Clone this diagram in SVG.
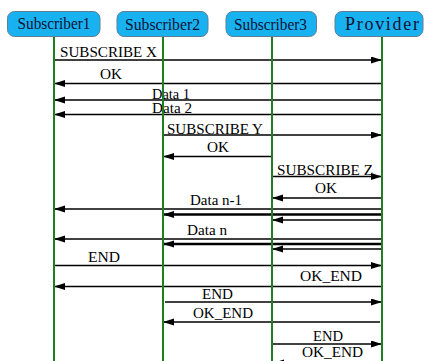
<svg xmlns="http://www.w3.org/2000/svg" width="424" height="361" viewBox="0 0 424 361">
<style>
.box{fill:#18b2f1;stroke:#5f7f95;stroke-width:1}
.hd{font-family:'Liberation Serif','Times New Roman',Tinos,'DejaVu Serif',serif;font-size:16px;fill:#111133}
.lbl{font-family:'Liberation Serif','Times New Roman',Tinos,'DejaVu Serif',serif;font-size:15px;fill:#000}
.life{stroke:#1f7f1f;stroke-width:2}
.msg{stroke:#000;stroke-width:1.6;fill:none;marker-end:url(#ah)}
.thick{stroke-width:2.4}
</style>
<defs>
<marker id="ah" markerUnits="userSpaceOnUse" markerWidth="12" markerHeight="8" refX="11" refY="3.5" orient="auto">
<path d="M0,0 L11,3.5 L0,7 z" fill="#000"/>
</marker>
</defs>
<rect width="424" height="361" fill="#fff"/>
<g id="connectors">
<line class="msg" x1="54" y1="60" x2="382" y2="60"/>
<line class="msg" x1="382" y1="83.5" x2="54" y2="83.5"/>
<line class="msg" x1="382" y1="100" x2="54" y2="100"/>
<line class="msg" x1="382" y1="114.5" x2="54" y2="114.5"/>
<line class="msg" x1="163" y1="135" x2="382" y2="135"/>
<line class="msg" x1="272" y1="156.5" x2="163" y2="156.5"/>
<line class="msg" x1="272" y1="176.5" x2="382" y2="176.5"/>
<line class="msg" x1="382" y1="198" x2="272" y2="198"/>
<line class="msg" x1="382" y1="209" x2="54" y2="209"/>
<line class="msg thick" x1="382" y1="214.5" x2="163" y2="214.5"/>
<line class="msg" x1="382" y1="220" x2="272" y2="220"/>
<line class="msg" x1="382" y1="239" x2="54" y2="239"/>
<line class="msg thick" x1="382" y1="244" x2="163" y2="244"/>
<line class="msg" x1="382" y1="249" x2="272" y2="249"/>
<line class="msg" x1="54" y1="265.5" x2="382" y2="265.5"/>
<line class="msg" x1="382" y1="286.5" x2="54" y2="286.5"/>
<line class="msg" x1="165" y1="302" x2="382" y2="302"/>
<line class="msg" x1="380" y1="322" x2="163" y2="322"/>
<line class="msg" x1="272" y1="344" x2="382" y2="344"/>
<line class="msg" x1="382" y1="363" x2="273" y2="363"/>
</g>
<g id="labels" font-family="Liberation Serif, serif">
<text class="lbl" x="60" y="57" textLength="97" lengthAdjust="spacingAndGlyphs">SUBSCRIBE X</text>
<text class="lbl" x="100" y="79" textLength="22" lengthAdjust="spacingAndGlyphs">OK</text>
<text class="lbl" x="152" y="98.5" style="font-size:14px" textLength="38" lengthAdjust="spacingAndGlyphs">Data 1</text>
<text class="lbl" x="152" y="113" style="font-size:14px" textLength="40" lengthAdjust="spacingAndGlyphs">Data 2</text>
<text class="lbl" x="167" y="134" textLength="96" lengthAdjust="spacingAndGlyphs">SUBSCRIBE Y</text>
<text class="lbl" x="207" y="152" textLength="22" lengthAdjust="spacingAndGlyphs">OK</text>
<text class="lbl" x="277" y="175" textLength="96" lengthAdjust="spacingAndGlyphs">SUBSCRIBE Z</text>
<text class="lbl" x="315" y="193" textLength="22" lengthAdjust="spacingAndGlyphs">OK</text>
<text class="lbl" x="190" y="205" textLength="52" lengthAdjust="spacingAndGlyphs">Data n-1</text>
<text class="lbl" x="187" y="235" textLength="40" lengthAdjust="spacingAndGlyphs">Data n</text>
<text class="lbl" x="88" y="262" textLength="32" lengthAdjust="spacingAndGlyphs">END</text>
<text class="lbl" x="300" y="281" textLength="62" lengthAdjust="spacingAndGlyphs">OK_END</text>
<text class="lbl" x="202" y="299" textLength="31" lengthAdjust="spacingAndGlyphs">END</text>
<text class="lbl" x="193" y="318" textLength="60" lengthAdjust="spacingAndGlyphs">OK_END</text>
<text class="lbl" x="313" y="341" textLength="30" lengthAdjust="spacingAndGlyphs">END</text>
<text class="lbl" x="302" y="357" textLength="61" lengthAdjust="spacingAndGlyphs">OK_END</text>
</g>
<g id="lifelines">
<line class="life" x1="54" y1="37" x2="54" y2="361"/>
<line class="life" x1="163" y1="37" x2="163" y2="361"/>
<line class="life" x1="272" y1="37" x2="272" y2="361"/>
<line class="life" x1="382" y1="37" x2="382" y2="361"/>
</g>
<g id="subscriber1">
<rect class="box" x="7.5" y="11.5" width="92.5" height="25" rx="7"/>
<text class="hd" x="17.5" y="29" textLength="73" lengthAdjust="spacingAndGlyphs">Subscriber1</text>
</g>
<g id="subscriber2">
<rect class="box" x="117" y="11.5" width="91" height="25" rx="7"/>
<text class="hd" x="125" y="30" textLength="75" lengthAdjust="spacingAndGlyphs">Subscriber2</text>
</g>
<g id="subscriber3">
<rect class="box" x="226" y="11.5" width="90.5" height="25" rx="7"/>
<text class="hd" x="234" y="29.5" textLength="73" lengthAdjust="spacingAndGlyphs">Subscriber3</text>
</g>
<g id="provider">
<rect class="box" x="335" y="11.5" width="88" height="25" rx="7"/>
<text class="hd" x="345" y="29.5" style="font-size:18px" textLength="74" lengthAdjust="spacing">Provider</text>
</g>
</svg>
